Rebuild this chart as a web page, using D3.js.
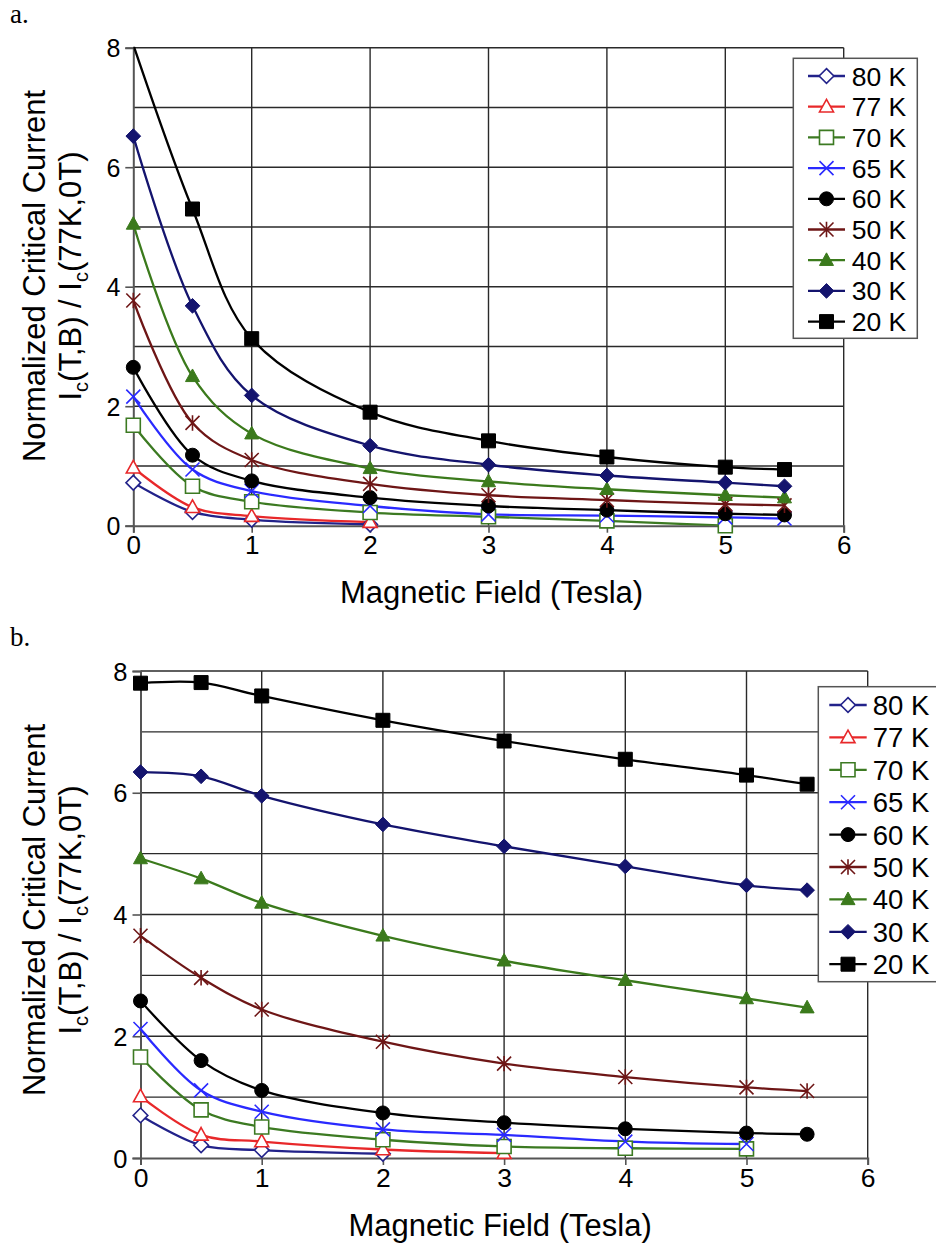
<!DOCTYPE html>
<html>
<head>
<meta charset="utf-8">
<script src="https://cdn.jsdelivr.net/npm/d3@7"></script>
<style>
  html, body { margin: 0; padding: 0; background: #fff; }
  svg { display: block; }
  text { font-family: "Liberation Sans", Arial, sans-serif; fill: #000; }
</style>
</head>
<body>
<svg id="chart" width="936" height="1249"></svg>
<script>
// ---------------- data ----------------
const fields = [0, 0.5, 1, 2, 3, 4, 5, 5.5];           // Magnetic field (Tesla)
const seriesNames = ["80 K", "77 K", "70 K", "65 K", "60 K", "50 K", "40 K", "30 K", "20 K"];
const xTicks = [0, 1, 2, 3, 4, 5, 6];
const yTicks = [0, 2, 4, 6, 8];
const xTitle = "Magnetic Field (Tesla)";
const yTitle1 = "Normalized Critical Current";

// panel a
const a80 = [0.72, 0.23, 0.10, 0.02];
const a77 = [0.97, 0.31, 0.16, 0.06];
const a70 = [1.68, 0.66, 0.40, 0.22, 0.15, 0.08, 0.00];
const a65 = [2.16, 0.94, 0.58, 0.33, 0.19, 0.17, 0.14, 0.12];
const a60 = [2.65, 1.18, 0.75, 0.47, 0.33, 0.26, 0.20, 0.18];
const a50 = [3.77, 1.72, 1.10, 0.70, 0.51, 0.43, 0.36, 0.34];
const a40 = [5.05, 2.50, 1.54, 0.96, 0.74, 0.61, 0.51, 0.47];
const a30 = [6.52, 3.68, 2.18, 1.34, 1.02, 0.84, 0.72, 0.66];
const a20 = [8.05, 5.30, 3.13, 1.90, 1.42, 1.15, 0.98, 0.94];

// panel b
const b80 = [0.70, 0.21, 0.13, 0.07];
const b77 = [1.01, 0.38, 0.27, 0.14, 0.08];
const b70 = [1.66, 0.79, 0.51, 0.30, 0.19, 0.16, 0.15];
const b65 = [2.12, 1.11, 0.76, 0.47, 0.38, 0.27, 0.23];
const b60 = [2.58, 1.60, 1.11, 0.74, 0.58, 0.48, 0.41, 0.39];
const b50 = [3.65, 2.96, 2.44, 1.91, 1.55, 1.33, 1.16, 1.10];
const b40 = [4.92, 4.59, 4.19, 3.65, 3.24, 2.92, 2.62, 2.47];
const b30 = [6.34, 6.27, 5.95, 5.48, 5.12, 4.79, 4.48, 4.40];
const b20 = [7.80, 7.81, 7.59, 7.19, 6.85, 6.55, 6.29, 6.14];

const seriesColors = ["#22228a", "#e8282a", "#3c7a22", "#2a2aff", "#000000", "#6e1616", "#3b7a1c", "#14146e", "#000000"];
const seriesMarkers = ["diamondOpen", "triangleOpen", "squareOpen", "cross", "circle", "asterisk", "triangle", "diamond", "square"];

// ---------------- drawing ----------------
const svg = d3.select("#chart");

function markerPath(type, s) {
  const h = s / 2;
  switch (type) {
    case "diamondOpen":
    case "diamond": { const r = h * 1.05; return `M0,${-r}L${r},0L0,${r}L${-r},0Z`; }
    case "triangleOpen":
    case "triangle": return `M0,${-h * 1.05}L${h},${h * 0.75}L${-h},${h * 0.75}Z`;
    case "squareOpen":
    case "square": return `M${-h},${-h}H${h}V${h}H${-h}Z`;
    case "circle": return d3.symbol(d3.symbolCircle, Math.PI * h * h)();
    case "cross": return `M${-h},${-h}L${h},${h}M${-h},${h}L${h},${-h}`;
    case "asterisk": return `M${-h},${-h}L${h},${h}M${-h},${h}L${h},${-h}M0,${-h * 1.1}V${h * 1.1}`;
  }
}
function styleMarker(sel, type, color) {
  const open = /Open$/.test(type) || type === "cross" || type === "asterisk";
  sel.attr("fill", open ? (type.endsWith("Open") ? "#fff" : "none") : color)
     .attr("stroke", color)
     .attr("stroke-width", open ? 1.6 : 1);
}

function drawPanel(cfg) {
  const { left, right, top, bottom, data, legend, label, labelY, yTitleCenter, xTitleY } = cfg;
  const x = d3.scaleLinear().domain([0, 6]).range([left, right]);
  const y = d3.scaleLinear().domain([0, 8]).range([bottom, top]);
  const g = svg.append("g");
  const clipId = "clip" + label[0];
  svg.append("clipPath").attr("id", clipId).append("rect")
     .attr("x", left).attr("y", top - 1).attr("width", right - left).attr("height", bottom - top + 1);

  // gridlines
  const gridY = d3.range(1, 9);
  g.append("g").selectAll("line").data(gridY).join("line")
    .attr("x1", left).attr("x2", right).attr("y1", d => y(d)).attr("y2", d => y(d))
    .attr("stroke", "#2a2a2a").attr("stroke-width", 1.4);
  g.append("g").selectAll("line").data(xTicks.slice(1)).join("line")
    .attr("x1", d => x(d)).attr("x2", d => x(d)).attr("y1", top).attr("y2", bottom)
    .attr("stroke", "#2a2a2a").attr("stroke-width", 1.4);

  // axes
  const xAxis = d3.axisBottom(x).tickValues(xTicks).tickSize(7).tickPadding(3).tickFormat(d3.format("d"));
  const yAxis = d3.axisLeft(y).tickValues(yTicks).tickSize(8).tickPadding(5).tickFormat(d3.format("d"));
  const gx = g.append("g").attr("transform", `translate(0,${bottom})`).call(xAxis);
  const gy = g.append("g").attr("transform", `translate(${left},0)`).call(yAxis);
  [gx, gy].forEach(ax => {
    ax.select(".domain").attr("stroke", "#555").attr("stroke-width", 2);
    ax.selectAll(".tick line").attr("stroke", "#555").attr("stroke-width", 1.6);
    ax.selectAll("text").attr("fill", "#000")
      .attr("font-family", "Liberation Sans, Arial, sans-serif");
  });
  gx.selectAll("text").attr("font-size", cfg.xTickFont);
  gy.selectAll("text").attr("font-size", cfg.yTickFont).attr("dy", "0.36em");

  // series
  const line = d3.line()
    .x((d) => x(d[0])).y(d => y(d[1]))
    .curve(d3.curveCatmullRom.alpha(0.5));
  data.forEach((vals, i) => {
    const pts = vals.map((v, j) => [fields[j], v]);
    g.append("path").datum(pts)
      .attr("d", line).attr("fill", "none")
      .attr("stroke", seriesColors[i]).attr("stroke-width", 2.3)
      .attr("clip-path", `url(#${clipId})`);
  });
  data.forEach((vals, i) => {
    const pts = vals.map((v, j) => [fields[j], v]).filter(d => d[1] <= 8);
    const m = g.append("g").selectAll("path").data(pts).join("path")
      .attr("transform", d => `translate(${x(d[0])},${y(d[1])})`)
      .attr("d", markerPath(seriesMarkers[i], 14));
    styleMarker(m, seriesMarkers[i], seriesColors[i]);
  });

  // legend
  const L = legend;
  const lg = svg.append("g");
  lg.append("rect").attr("x", L.x0).attr("y", L.y0).attr("width", L.x1 - L.x0).attr("height", L.y1 - L.y0)
    .attr("fill", "#fff").attr("stroke", "#555").attr("stroke-width", 1.5);
  seriesNames.forEach((name, i) => {
    const ry = L.rowStart + i * L.rowStep;
    lg.append("line").attr("x1", L.lineX0).attr("x2", L.lineX1).attr("y1", ry).attr("y2", ry)
      .attr("stroke", seriesColors[i]).attr("stroke-width", 2.3);
    const mk = lg.append("path").attr("transform", `translate(${(L.lineX0 + L.lineX1) / 2},${ry})`)
      .attr("d", markerPath(seriesMarkers[i], 14));
    styleMarker(mk, seriesMarkers[i], seriesColors[i]);
    lg.append("text").attr("x", L.textX).attr("y", ry).attr("dy", "0.36em")
      .attr("font-size", L.font).text(name);
  });

  // titles
  svg.append("text").attr("x", (left + right) / 2 + (cfg.xTitleShift || 0)).attr("y", xTitleY)
    .attr("text-anchor", "middle").attr("font-size", 31).text(xTitle);

  const t1 = svg.append("text").attr("transform", `translate(45,${yTitleCenter}) rotate(-90)`)
    .attr("text-anchor", "middle").attr("font-size", 31).text(yTitle1);
  const t2 = svg.append("text").attr("transform", `translate(81,${yTitleCenter}) rotate(-90)`)
    .attr("text-anchor", "middle").attr("font-size", 31);
  t2.append("tspan").text("I");
  t2.append("tspan").attr("font-size", 20).attr("dy", 7).text("c");
  t2.append("tspan").attr("dy", -7).text("(T,B) / I");
  t2.append("tspan").attr("font-size", 20).attr("dy", 7).text("c");
  t2.append("tspan").attr("dy", -7).text("(77K,0T)");

  svg.append("text").attr("x", 10).attr("y", labelY)
    .attr("font-family", "Liberation Serif, Times New Roman, serif")
    .style("font-family", "'Liberation Serif', 'Times New Roman', serif")
    .attr("font-size", 27).text(label);
}

drawPanel({
  left: 133.3, right: 843.7, top: 47.7, bottom: 525.7,
  data: [a80, a77, a70, a65, a60, a50, a40, a30, a20],
  xTickFont: 26, yTickFont: 25, label: "a.", labelY: 23, yTitleCenter: 276, xTitleY: 603, xTitleShift: 3,
  legend: { x0: 793.3, x1: 917.3, y0: 58.3, y1: 338.3, rowStart: 76, rowStep: 30.7,
            lineX0: 808, lineX1: 845, textX: 851.7, font: 26.5 }
});
drawPanel({
  left: 140.5, right: 867.7, top: 671, bottom: 1158,
  data: [b80, b77, b70, b65, b60, b50, b40, b30, b20],
  xTickFont: 26.5, yTickFont: 25.5, label: "b.", labelY: 646, yTitleCenter: 910, xTitleY: 1236, xTitleShift: -4,
  legend: { x0: 818.3, x1: 942, y0: 686.7, y1: 981.7, rowStart: 705, rowStep: 32.4,
            lineX0: 829.3, lineX1: 866.7, textX: 872.7, font: 27.5 }
});
</script>
</body>
</html>
